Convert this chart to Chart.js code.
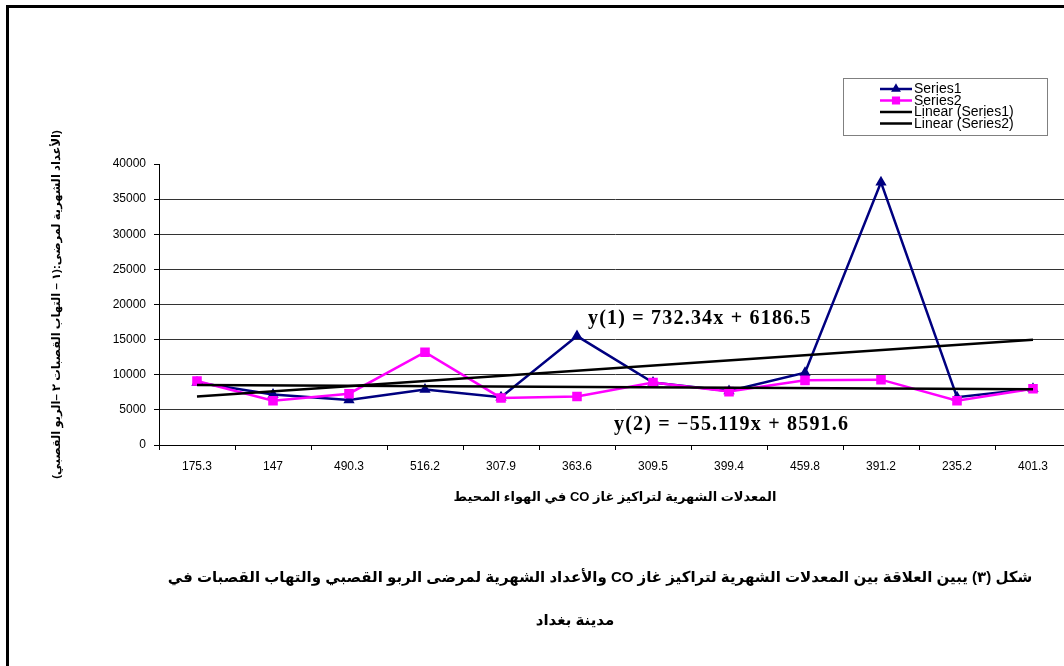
<!DOCTYPE html>
<html lang="ar">
<head>
<meta charset="utf-8">
<script src="https://cdn.jsdelivr.net/npm/chart.js@4.4.1/dist/chart.umd.min.js"></script>
<style>
  html, body { margin: 0; padding: 0; width: 1064px; height: 666px; overflow: hidden; background: #fff; }
  #frame { position: absolute; left: 6px; top: 5px; width: 1200px; height: 800px; border-left: 3px solid #000; border-top: 3px solid #000; }
  #wrap { position: absolute; left: 0; top: 0; width: 1072px; height: 666px; }
  #coChart { direction: rtl; }
  .caption { position: absolute; left: 0; text-align: center; direction: rtl; white-space: nowrap;
             font-family: "Liberation Sans", "DejaVu Sans", sans-serif; font-weight: bold; font-size: 15px; line-height: 20px; color: #000; }
  #cap1 { width: 1200px; top: 567px; }
  #cap2 { width: 1150px; top: 610px; }
</style>
</head>
<body>
<div id="frame"></div>
<div id="wrap"><canvas id="coChart" width="1072" height="666"></canvas></div>
<div class="caption" id="cap1">شكل (٣) يبين العلاقة بين المعدلات الشهرية لتراكيز غاز CO والأعداد الشهرية لمرضى الربو القصبي والتهاب القصبات في</div>
<div class="caption" id="cap2">مدينة بغداد</div>
<script>
// monthly CO concentration (x categories)
var categories = ['175.3', '147', '490.3', '516.2', '307.9', '363.6', '309.5', '399.4', '459.8', '391.2', '235.2', '401.3'];
// monthly patient counts
var series1 = [8900, 7200, 6400, 7900, 6800, 15500, 8900, 7700, 10300, 37400, 6800, 8000];
var series2 = [9100, 6300, 7300, 13200, 6700, 6900, 8900, 7600, 9200, 9300, 6300, 8000];
// trend line end points (only first and last month are read)
var trend1 = [6920, null, null, null, null, null, null, null, null, null, null, 14970];
var trend2 = [8540, null, null, null, null, null, null, null, null, null, null, 7930];

var eq1 = 'y(1) = 732.34x + 6186.5';
var eq2 = 'y(2) = \u221255.119x + 8591.6';

var sansFont = '"Liberation Sans", "DejaVu Sans", sans-serif';

var overlay = {
    id: 'overlay',
    afterDraw: function(chart) {
        var ctx = chart.ctx;
        var x = chart.scales.x, y = chart.scales.y;
        ctx.save();
        ctx.direction = 'ltr';

        // trend equations
        ctx.fillStyle = '#000';
        ctx.textBaseline = 'middle';
        ctx.textAlign = 'left';
        ctx.font = 'bold 20px "Liberation Serif", serif';
        ctx.letterSpacing = '1.2px';
        ctx.fillText(eq1, x.getPixelForValue(5) + 11, y.getPixelForValue(17900));
        ctx.fillText(eq2, x.getPixelForValue(5) + 37, y.getPixelForValue(2900));
        ctx.letterSpacing = '0px';

        // legend box
        ctx.strokeStyle = '#808080';
        ctx.lineWidth = 1;
        ctx.strokeRect(843.5, 78.5, 204, 57);
        ctx.font = '14px ' + sansFont;
        chart.data.datasets.forEach(function(ds, i) {
            var cy = 89 + i * 11.5;
            ctx.strokeStyle = ds.borderColor;
            ctx.lineWidth = 2.5;
            ctx.beginPath();
            ctx.moveTo(880, cy);
            ctx.lineTo(912, cy);
            ctx.stroke();
            if (ds.pointRadius) {
                ctx.fillStyle = ds.pointBackgroundColor;
                ctx.strokeStyle = ds.pointBorderColor;
                Chart.helpers.drawPoint(ctx, {pointStyle: ds.pointStyle, rotation: 0, radius: ds.pointRadius * 0.8, borderWidth: 1}, 896, cy);
            }
            ctx.fillStyle = '#000';
            ctx.fillText(ds.label, 914, cy + 0.5);
        });
        ctx.restore();
    }
};

var ctx = document.getElementById('coChart').getContext('2d');

var coChart = new Chart(ctx, {
    type: 'line',
    data: {
        labels: categories,
        datasets: [{
            label: 'Series1',
            data: series1,
            borderColor: '#000080',
            backgroundColor: '#000080',
            pointBackgroundColor: '#000080',
            pointBorderColor: '#000080',
            pointStyle: 'triangle',
            pointRadius: 4,
            borderWidth: 2.5,
            tension: 0,
            fill: false,
            order: 3
        }, {
            label: 'Series2',
            data: series2,
            borderColor: '#ff00ff',
            backgroundColor: '#ff00ff',
            pointBackgroundColor: '#ff00ff',
            pointBorderColor: '#ff00ff',
            pointStyle: 'rect',
            pointRadius: 5,
            borderWidth: 2.5,
            tension: 0,
            fill: false,
            order: 2
        }, {
            label: 'Linear (Series1)',
            data: trend1,
            borderColor: '#000',
            borderWidth: 2.5,
            pointRadius: 0,
            spanGaps: true,
            fill: false,
            order: 1
        }, {
            label: 'Linear (Series2)',
            data: trend2,
            borderColor: '#000',
            borderWidth: 2.5,
            pointRadius: 0,
            spanGaps: true,
            fill: false,
            order: 0
        }]
    },
    options: {
        responsive: false,
        animation: false,
        devicePixelRatio: 1,
        layout: {
            autoPadding: false,
            padding: { left: 50, top: 164, right: 1, bottom: 157 }
        },
        plugins: {
            legend: { display: false },
            tooltip: { enabled: false }
        },
        scales: {
            x: {
                offset: true,
                afterFit: function(scale) {
                    scale.height = 64;
                    scale.paddingLeft = 0;
                    scale.paddingRight = 0;
                },
                grid: { offset: true, drawOnChartArea: false, tickLength: 5, tickColor: '#000' },
                border: { color: '#000', width: 1 },
                ticks: { color: '#000', padding: 9, maxRotation: 0, font: { family: sansFont, size: 12 } },
                title: {
                    display: true,
                    text: 'المعدلات الشهرية لتراكيز غاز CO في الهواء المحيط',
                    color: '#000',
                    padding: { top: 0, bottom: 4 },
                    font: { family: sansFont, size: 13, weight: 'bold' }
                }
            },
            y: {
                min: 0,
                max: 40000,
                afterFit: function(scale) { scale.width = 109; },
                grid: {
                    color: function(c) { return c.tick && c.tick.value === 40000 ? 'rgba(0,0,0,0)' : '#333'; },
                    tickColor: '#000',
                    tickLength: 5
                },
                border: { color: '#000', width: 1 },
                ticks: {
                    stepSize: 5000,
                    color: '#000',
                    padding: 8,
                    font: { family: sansFont, size: 12 },
                    callback: function(v) { return String(v); }
                },
                title: {
                    display: true,
                    text: '(الأعداد الشهرية لمرضى:(١ – التهاب القصبات ٢ –الربو القصبي)',
                    color: '#000',
                    padding: { top: 0, bottom: 0 },
                    font: { family: sansFont, size: 11.5, weight: 'bold' }
                }
            }
        }
    },
    plugins: [overlay]
});
</script>
</body>
</html>
